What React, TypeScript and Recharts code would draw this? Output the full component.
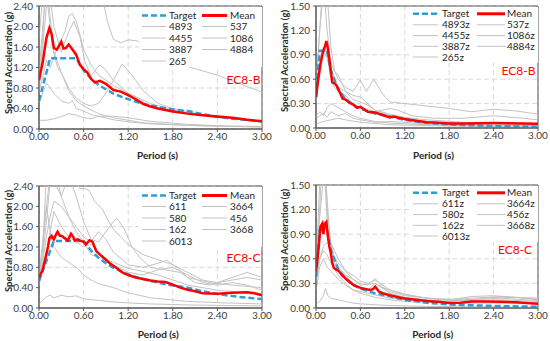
import React from 'react';
import { LineChart, Line, XAxis, YAxis, CartesianGrid, ReferenceArea, Legend } from 'recharts';

type Pt = [number, number];

// ---------- shared ticks ----------
const periodTicks = [0, 0.6, 1.2, 1.8, 2.4, 3.0];
const horizTicks = [0, 0.4, 0.8, 1.2, 1.6, 2.0, 2.4];
const vertTicks = [0, 0.3, 0.6, 0.9, 1.2, 1.5];

// ---------- EC8-B horizontal ----------
const hbNames = ['4893', '4455', '3887', '265', '537', '1086', '4884'];
const hbTarget: Pt[] = [[0, 0.55], [0.15, 1.38], [0.5, 1.38], [0.6, 1.15], [0.7, 0.99], [0.8, 0.86], [1.0, 0.69], [1.2, 0.58], [1.4, 0.49], [1.6, 0.43], [1.8, 0.38], [2.0, 0.35], [2.2, 0.29], [2.4, 0.24], [2.6, 0.2], [2.8, 0.18], [3.0, 0.15]];
const hbMean: Pt[] = [[0, 0.95], [0.05, 1.3], [0.1, 1.78], [0.14, 1.97], [0.17, 1.85], [0.2, 1.58], [0.24, 1.55], [0.28, 1.65], [0.3, 1.7], [0.33, 1.57], [0.36, 1.58], [0.4, 1.65], [0.45, 1.55], [0.5, 1.45], [0.55, 1.25], [0.6, 1.17], [0.65, 1.1], [0.7, 0.98], [0.75, 0.91], [0.82, 0.94], [0.9, 0.88], [1.0, 0.76], [1.1, 0.73], [1.2, 0.66], [1.3, 0.58], [1.4, 0.49], [1.5, 0.44], [1.6, 0.4], [1.8, 0.34], [2.0, 0.3], [2.2, 0.27], [2.4, 0.245], [2.6, 0.22], [2.8, 0.18], [3.0, 0.15]];
const hb4893: Pt[] = [[0, 1.75], [0.05, 2.6], [0.1, 3.2], [0.15, 3.5], [0.3, 3.6], [0.6, 3.4], [0.85, 2.6], [0.92, 2.1], [1.0, 1.75], [1.1, 1.68], [1.2, 1.74], [1.32, 1.72], [1.6, 1.5], [2.0, 1.22], [2.4, 1.05], [3.0, 0.72]];
const hb4455: Pt[] = [[0, 0.75], [0.05, 1.0], [0.1, 1.35], [0.15, 1.2], [0.2, 1.4], [0.25, 1.6], [0.3, 1.75], [0.35, 1.9], [0.4, 2.2], [0.45, 2.25], [0.5, 2.1], [0.55, 1.85], [0.6, 1.55], [0.7, 1.25], [0.8, 1.05], [1.0, 0.85], [1.2, 0.7], [1.5, 0.5], [1.8, 0.37], [2.2, 0.27], [2.6, 0.2], [3.0, 0.15]];
const hb3887: Pt[] = [[0, 0.9], [0.05, 1.6], [0.1, 2.4], [0.15, 2.6], [0.2, 2.0], [0.3, 1.5], [0.4, 1.9], [0.47, 2.1], [0.55, 1.8], [0.62, 1.3], [0.7, 1.05], [0.82, 1.25], [0.9, 1.15], [1.0, 0.95], [1.2, 0.7], [1.5, 0.45], [1.8, 0.35], [2.4, 0.22], [3.0, 0.15]];
const hb265: Pt[] = [[0, 1.1], [0.05, 2.0], [0.1, 2.8], [0.15, 2.2], [0.2, 1.5], [0.3, 1.1], [0.4, 0.8], [0.5, 0.6], [0.6, 0.5], [0.7, 0.45], [0.8, 0.5], [0.9, 0.7], [1.0, 0.95], [1.12, 1.27], [1.25, 1.05], [1.4, 0.75], [1.6, 0.5], [1.8, 0.4], [2.2, 0.28], [2.6, 0.2], [3.0, 0.14]];
const hb537: Pt[] = [[0, 0.7], [0.05, 1.8], [0.08, 2.6], [0.12, 2.4], [0.18, 1.6], [0.25, 1.2], [0.3, 1.1], [0.4, 0.75], [0.5, 0.55], [0.6, 0.45], [0.8, 0.3], [1.0, 0.22], [1.4, 0.12], [2.0, 0.07], [3.0, 0.04]];
const hb1086: Pt[] = [[0, 0.5], [0.1, 0.9], [0.2, 0.7], [0.3, 0.55], [0.4, 0.5], [0.45, 0.55], [0.5, 0.4], [0.6, 0.35], [0.7, 0.28], [0.8, 0.25], [1.0, 0.18], [1.2, 0.14], [1.5, 0.1], [2.0, 0.07], [2.5, 0.05], [3.0, 0.04]];
const hb4884: Pt[] = [[0, 0.17], [0.1, 0.17], [0.2, 0.2], [0.3, 0.24], [0.4, 0.3], [0.5, 0.27], [0.6, 0.22], [0.7, 0.2], [0.8, 0.25], [1.0, 0.25], [1.2, 0.22], [1.5, 0.15], [2.0, 0.09], [2.5, 0.06], [3.0, 0.05]];

// ---------- EC8-B vertical ----------
const vbNames = ['4893z', '4455z', '3887z', '265z', '537z', '1086z', '4884z'];
const vbTarget: Pt[] = [[0, 0.38], [0.05, 0.95], [0.15, 0.95], [0.2, 0.71], [0.3, 0.475], [0.4, 0.356], [0.5, 0.285], [0.6, 0.237], [0.8, 0.178], [1.0, 0.142], [1.2, 0.099], [1.5, 0.063], [1.8, 0.044], [2.0, 0.036], [2.5, 0.023], [3.0, 0.016]];
const vbMean: Pt[] = [[0, 0.38], [0.03, 0.6], [0.06, 0.78], [0.09, 0.92], [0.12, 1.0], [0.14, 1.07], [0.16, 0.98], [0.18, 0.85], [0.2, 0.7], [0.22, 0.56], [0.25, 0.55], [0.28, 0.52], [0.3, 0.48], [0.33, 0.42], [0.36, 0.36], [0.4, 0.35], [0.45, 0.31], [0.5, 0.29], [0.55, 0.25], [0.6, 0.26], [0.65, 0.23], [0.7, 0.2], [0.8, 0.19], [0.9, 0.16], [1.0, 0.13], [1.05, 0.14], [1.1, 0.13], [1.2, 0.11], [1.35, 0.09], [1.5, 0.07], [1.65, 0.065], [1.8, 0.055], [2.0, 0.055], [2.2, 0.058], [2.4, 0.06], [2.6, 0.058], [2.8, 0.056], [3.0, 0.053]];
const vb4893: Pt[] = [[0, 0.5], [0.05, 1.2], [0.1, 1.7], [0.13, 1.9], [0.17, 1.4], [0.2, 1.0], [0.25, 0.7], [0.3, 0.6], [0.4, 0.5], [0.5, 0.45], [0.6, 0.59], [0.68, 0.45], [0.78, 0.6], [0.9, 0.42], [1.0, 0.32], [1.2, 0.3], [1.5, 0.27], [1.8, 0.24], [2.1, 0.2], [2.4, 0.23], [2.7, 0.21], [3.0, 0.17]];
const vb4455: Pt[] = [[0, 0.45], [0.05, 1.2], [0.08, 1.6], [0.1, 1.8], [0.12, 1.55], [0.15, 1.2], [0.2, 0.8], [0.25, 0.7], [0.3, 0.65], [0.4, 0.45], [0.5, 0.4], [0.6, 0.38], [0.7, 0.3], [0.8, 0.22], [1.0, 0.17], [1.2, 0.13], [1.5, 0.1], [2.0, 0.07], [2.5, 0.05], [3.0, 0.04]];
const vb3887: Pt[] = [[0, 0.35], [0.05, 0.8], [0.1, 1.0], [0.15, 0.9], [0.2, 0.6], [0.25, 0.5], [0.3, 0.45], [0.4, 0.4], [0.5, 0.3], [0.6, 0.25], [0.8, 0.2], [1.0, 0.24], [1.1, 0.22], [1.3, 0.15], [1.6, 0.12], [2.0, 0.12], [2.4, 0.15], [2.8, 0.12], [3.0, 0.1]];
const vb265: Pt[] = [[0, 0.3], [0.05, 0.7], [0.1, 0.95], [0.15, 0.85], [0.2, 0.75], [0.25, 0.6], [0.3, 0.5], [0.4, 0.45], [0.5, 0.35], [0.6, 0.32], [0.7, 0.28], [0.8, 0.22], [1.0, 0.15], [1.2, 0.12], [1.5, 0.08], [2.0, 0.06], [2.5, 0.05], [3.0, 0.04]];
const vb537: Pt[] = [[0, 0.15], [0.05, 0.2], [0.1, 0.15], [0.15, 0.25], [0.2, 0.3], [0.24, 0.28], [0.3, 0.25], [0.4, 0.2], [0.5, 0.15], [0.6, 0.12], [0.8, 0.08], [1.0, 0.06], [1.5, 0.04], [2.0, 0.03], [3.0, 0.02]];
const vb1086: Pt[] = [[0, 0.12], [0.05, 0.15], [0.1, 0.18], [0.15, 0.13], [0.2, 0.2], [0.3, 0.15], [0.4, 0.18], [0.5, 0.12], [0.6, 0.1], [0.8, 0.07], [1.0, 0.08], [1.2, 0.07], [1.5, 0.05], [2.0, 0.04], [2.5, 0.035], [3.0, 0.03]];
const vb4884: Pt[] = [[0, 0.05], [0.1, 0.08], [0.2, 0.1], [0.3, 0.12], [0.4, 0.1], [0.6, 0.07], [1.0, 0.04], [1.5, 0.03], [2.0, 0.02], [3.0, 0.015]];

// ---------- EC8-C horizontal ----------
const hcNames = ['611', '580', '162', '6013', '3664', '456', '3668'];
const hcTarget: Pt[] = [[0, 0.53], [0.2, 1.32], [0.6, 1.32], [0.7, 1.13], [0.8, 0.99], [0.9, 0.88], [1.0, 0.79], [1.2, 0.66], [1.4, 0.57], [1.6, 0.5], [1.8, 0.44], [2.0, 0.4], [2.2, 0.33], [2.4, 0.275], [2.6, 0.234], [2.8, 0.202], [3.0, 0.176]];
const hcMean: Pt[] = [[0, 0.6], [0.05, 0.75], [0.09, 1.0], [0.12, 1.2], [0.14, 1.37], [0.17, 1.42], [0.2, 1.35], [0.23, 1.45], [0.25, 1.5], [0.28, 1.42], [0.3, 1.42], [0.35, 1.37], [0.39, 1.33], [0.43, 1.46], [0.46, 1.4], [0.48, 1.33], [0.52, 1.35], [0.56, 1.32], [0.6, 1.3], [0.63, 1.25], [0.68, 1.33], [0.72, 1.3], [0.77, 1.12], [0.82, 1.05], [0.86, 1.0], [0.9, 0.95], [0.95, 0.88], [1.0, 0.83], [1.05, 0.78], [1.13, 0.69], [1.2, 0.65], [1.3, 0.6], [1.4, 0.57], [1.5, 0.54], [1.6, 0.52], [1.7, 0.51], [1.8, 0.46], [1.9, 0.4], [2.0, 0.36], [2.1, 0.33], [2.2, 0.29], [2.4, 0.28], [2.6, 0.3], [2.8, 0.31], [2.9, 0.29], [3.0, 0.25]];
const hc611: Pt[] = [[0, 0.65], [0.05, 1.3], [0.1, 2.0], [0.15, 2.6], [0.2, 2.9], [0.3, 2.7], [0.4, 2.5], [0.5, 2.45], [0.55, 2.35], [0.62, 2.35], [0.68, 2.3], [0.75, 2.1], [0.85, 1.95], [0.92, 1.75], [1.0, 1.55], [1.1, 1.4], [1.2, 1.25], [1.4, 1.05], [1.6, 0.95], [1.8, 0.85], [2.0, 0.7], [2.2, 0.55], [2.4, 0.5], [2.6, 0.55], [2.8, 0.6], [3.0, 0.55]];
const hc580: Pt[] = [[0, 0.55], [0.05, 1.2], [0.1, 2.6], [0.15, 2.8], [0.2, 2.5], [0.3, 2.2], [0.4, 2.6], [0.5, 2.2], [0.6, 1.7], [0.7, 1.35], [0.8, 1.3], [0.9, 1.5], [1.0, 1.7], [1.05, 1.76], [1.15, 1.55], [1.25, 1.2], [1.35, 1.0], [1.5, 0.8], [1.7, 0.75], [1.9, 0.7], [2.1, 0.5], [2.3, 0.45], [2.5, 0.55], [2.7, 0.65], [2.8, 0.7], [3.0, 0.6]];
const hc162: Pt[] = [[0, 0.5], [0.05, 0.9], [0.1, 1.4], [0.15, 1.8], [0.2, 2.1], [0.3, 2.0], [0.4, 1.8], [0.5, 1.6], [0.6, 1.4], [0.7, 1.3], [0.8, 1.5], [0.9, 1.35], [1.0, 1.1], [1.2, 0.85], [1.4, 0.8], [1.6, 0.88], [1.72, 0.94], [1.85, 0.8], [2.0, 0.6], [2.3, 0.5], [2.6, 0.45], [3.0, 0.4]];
const hc6013: Pt[] = [[0, 0.45], [0.05, 0.8], [0.1, 1.1], [0.15, 1.5], [0.2, 1.9], [0.3, 1.6], [0.4, 1.4], [0.5, 1.3], [0.6, 1.2], [0.7, 1.25], [0.8, 1.1], [1.0, 0.85], [1.2, 0.7], [1.4, 0.65], [1.6, 0.75], [1.8, 0.8], [2.0, 0.65], [2.2, 0.5], [2.4, 0.45], [2.6, 0.5], [2.8, 0.45], [3.0, 0.35]];
const hc3664: Pt[] = [[0, 0.6], [0.05, 1.2], [0.1, 2.0], [0.15, 1.5], [0.2, 1.2], [0.3, 1.0], [0.4, 0.9], [0.5, 0.8], [0.55, 0.74], [0.6, 0.65], [0.7, 0.55], [0.8, 0.48], [1.0, 0.4], [1.2, 0.3], [1.5, 0.2], [2.0, 0.13], [2.5, 0.1], [3.0, 0.08]];
const hc456: Pt[] = [[0, 0.08], [0.05, 0.15], [0.1, 0.22], [0.15, 0.25], [0.2, 0.2], [0.3, 0.25], [0.4, 0.22], [0.5, 0.24], [0.6, 0.18], [0.8, 0.15], [1.0, 0.12], [1.2, 0.1], [1.5, 0.08], [2.0, 0.06], [2.5, 0.05], [3.0, 0.04]];
const hc3668: Pt[] = [[0, 0.55], [0.05, 1.0], [0.1, 1.7], [0.15, 2.5], [0.2, 2.8], [0.3, 2.2], [0.4, 1.8], [0.5, 1.5], [0.6, 1.3], [0.7, 1.05], [0.8, 1.0], [1.0, 0.9], [1.2, 0.78], [1.4, 0.72], [1.6, 0.65], [1.8, 0.55], [2.0, 0.45], [2.4, 0.35], [2.8, 0.3], [3.0, 0.28]];

// ---------- EC8-C vertical ----------
const vcNames = ['611z', '580z', '162z', '6013z', '3664z', '456z', '3668z'];
const vcTarget: Pt[] = [[0, 0.38], [0.05, 0.95], [0.15, 0.95], [0.2, 0.71], [0.3, 0.475], [0.4, 0.356], [0.5, 0.285], [0.6, 0.237], [0.8, 0.178], [1.0, 0.142], [1.2, 0.099], [1.5, 0.063], [1.8, 0.044], [2.0, 0.036], [2.5, 0.023], [3.0, 0.016]];
const vcMean: Pt[] = [[0, 0.45], [0.02, 0.6], [0.04, 0.78], [0.06, 0.99], [0.085, 1.03], [0.1, 0.9], [0.12, 1.03], [0.14, 1.05], [0.16, 0.88], [0.18, 0.75], [0.2, 0.67], [0.22, 0.55], [0.24, 0.49], [0.27, 0.47], [0.31, 0.45], [0.35, 0.4], [0.4, 0.36], [0.45, 0.32], [0.51, 0.28], [0.56, 0.26], [0.62, 0.24], [0.68, 0.23], [0.73, 0.22], [0.77, 0.23], [0.8, 0.26], [0.85, 0.2], [0.9, 0.18], [1.0, 0.155], [1.1, 0.135], [1.2, 0.115], [1.35, 0.1], [1.5, 0.085], [1.65, 0.075], [1.8, 0.062], [1.95, 0.065], [2.1, 0.08], [2.3, 0.08], [2.5, 0.075], [2.7, 0.07], [2.85, 0.062], [3.0, 0.053]];
const vc611: Pt[] = [[0, 0.5], [0.04, 1.3], [0.07, 2.0], [0.1, 1.7], [0.13, 1.6], [0.16, 1.2], [0.2, 0.75], [0.25, 0.6], [0.3, 0.55], [0.4, 0.45], [0.5, 0.35], [0.6, 0.3], [0.7, 0.28], [0.8, 0.36], [0.9, 0.25], [1.0, 0.22], [1.2, 0.17], [1.5, 0.12], [1.8, 0.1], [2.1, 0.14], [2.4, 0.15], [2.7, 0.13], [3.0, 0.1]];
const vc580: Pt[] = [[0, 0.4], [0.04, 1.0], [0.07, 1.6], [0.1, 1.9], [0.13, 1.4], [0.16, 0.9], [0.2, 0.8], [0.25, 0.7], [0.3, 0.6], [0.4, 0.45], [0.5, 0.4], [0.6, 0.33], [0.7, 0.3], [0.8, 0.34], [1.0, 0.22], [1.2, 0.16], [1.5, 0.12], [1.8, 0.1], [2.1, 0.12], [2.5, 0.14], [3.0, 0.11]];
const vc162: Pt[] = [[0, 0.45], [0.05, 1.1], [0.08, 1.4], [0.1, 1.6], [0.12, 2.0], [0.15, 1.2], [0.2, 0.8], [0.25, 0.6], [0.3, 0.5], [0.4, 0.4], [0.5, 0.35], [0.6, 0.28], [0.8, 0.3], [1.0, 0.2], [1.2, 0.15], [1.5, 0.12], [2.0, 0.1], [2.5, 0.12], [3.0, 0.09]];
const vc6013: Pt[] = [[0, 0.3], [0.05, 0.6], [0.1, 0.75], [0.15, 0.8], [0.2, 0.75], [0.25, 0.55], [0.3, 0.45], [0.4, 0.4], [0.5, 0.3], [0.6, 0.25], [0.7, 0.22], [0.8, 0.3], [1.0, 0.18], [1.2, 0.13], [1.5, 0.1], [2.0, 0.09], [2.5, 0.1], [3.0, 0.08]];
const vc3664: Pt[] = [[0, 0.35], [0.05, 0.6], [0.1, 0.7], [0.15, 0.65], [0.2, 0.55], [0.3, 0.4], [0.4, 0.3], [0.5, 0.22], [0.6, 0.18], [0.8, 0.13], [1.0, 0.1], [1.2, 0.08], [1.5, 0.07], [2.0, 0.06], [2.5, 0.06], [3.0, 0.05]];
const vc456: Pt[] = [[0, 0.05], [0.05, 0.08], [0.1, 0.15], [0.13, 0.24], [0.16, 0.15], [0.2, 0.12], [0.3, 0.1], [0.4, 0.08], [0.5, 0.06], [0.6, 0.05], [0.8, 0.04], [1.0, 0.03], [1.5, 0.02], [2.0, 0.015], [3.0, 0.01]];
const vc3668: Pt[] = [[0, 0.2], [0.05, 0.5], [0.1, 0.6], [0.15, 0.5], [0.2, 0.45], [0.3, 0.35], [0.4, 0.28], [0.5, 0.22], [0.6, 0.2], [0.8, 0.16], [1.0, 0.12], [1.2, 0.1], [1.5, 0.09], [1.8, 0.08], [2.1, 0.1], [2.4, 0.13], [2.7, 0.13], [3.0, 0.12]];

// ---------- styling ----------
const FONT = 'Lato, "Open Sans", sans-serif';
const AXIS = '#595959';
const GRAY = '#c3c3c3';
const RED = '#ff0000';
const BLUE = '#2a9fd8';

const toPts = (a: Pt[]) => a.map(([x, y]) => ({ x, y }));
const fmt = (v: number) => v.toFixed(2);

type LegendGeom = { rows: number[]; s1: [number, number]; t1: number; s2: [number, number]; t2: number };
const legendWide: LegendGeom = { rows: [8.5, 19.5, 31, 42.5, 54], s1: [3, 27], t1: 30, s2: [63, 88], t2: 91 };
const legendNarrow: LegendGeom = { rows: [6.8, 17.8, 28.6, 39.3, 50], s1: [2, 27], t1: 31, s2: [66, 94], t2: 96 };

function LegendBox({ names, g, w, h }: { names: string[]; g: LegendGeom; w: number; h: number }) {
  const items: { col: number; row: number; label: string; kind: 'target' | 'mean' | 'rec' }[] = [
    { col: 0, row: 0, label: 'Target', kind: 'target' },
    { col: 1, row: 0, label: 'Mean', kind: 'mean' },
  ];
  names.forEach((n, i) => {
    if (i < 4) items.push({ col: 0, row: i + 1, label: n, kind: 'rec' });
    else items.push({ col: 1, row: i - 3, label: n, kind: 'rec' });
  });
  return (
    <div style={{ position: 'relative', width: w, height: h, background: '#fff', fontFamily: FONT, fontSize: 10, color: '#262626' }}>
      <svg width={w} height={h} style={{ position: 'absolute', left: 0, top: 0 }}>
        {items.map((it, i) => {
          const s = it.col === 0 ? g.s1 : g.s2;
          const y = g.rows[it.row];
          const stroke = it.kind === 'target' ? BLUE : it.kind === 'mean' ? RED : GRAY;
          const sw = it.kind === 'rec' ? 1 : it.kind === 'mean' ? 3 : 2.5;
          return (
            <line key={i} x1={s[0]} x2={s[1]} y1={y} y2={y} stroke={stroke} strokeWidth={sw}
              strokeDasharray={it.kind === 'target' ? '6 3' : undefined} />
          );
        })}
      </svg>
      {items.map((it, i) => (
        <div key={'t' + i} style={{ position: 'absolute', left: it.col === 0 ? g.t1 : g.t2, top: g.rows[it.row] - 5, height: 10, lineHeight: '10px', whiteSpace: 'nowrap' }}>
          {it.label}
        </div>
      ))}
    </div>
  );
}

type PanelProps = {
  left: number; top: number; width: number; height: number;
  margin: { top: number; right: number; bottom: number; left: number };
  yAxisWidth: number;
  yMax: number; yTicks: number[];
  records: Pt[][]; names: string[]; target: Pt[]; mean: Pt[];
  tag: string; tagPos: [number, number];
  yTitle: [number, number]; xTitle: [number, number];
  legend: { x: number; y: number; w: number; h: number; g: LegendGeom };
};

function Panel(p: PanelProps) {
  return (
    <div style={{ position: 'absolute', left: p.left, top: p.top, width: p.width, height: p.height, fontFamily: FONT }}>
      <LineChart width={p.width} height={p.height} margin={p.margin}>
        <CartesianGrid stroke="#d9d9d9" strokeDasharray="5 3" />
        <XAxis type="number" dataKey="x" domain={[0, 3]} ticks={periodTicks} tickFormatter={fmt}
          allowDataOverflow height={20} tickSize={3} tickMargin={1}
          tick={{ fontSize: 10, fill: '#404040', fontFamily: FONT }}
          stroke={AXIS} axisLine={{ stroke: AXIS }} tickLine={{ stroke: AXIS }} />
        <YAxis type="number" dataKey="y" domain={[0, p.yMax]} ticks={p.yTicks} tickFormatter={fmt}
          allowDataOverflow width={p.yAxisWidth} tickSize={3} tickMargin={3}
          tick={{ fontSize: 10, fill: '#404040', fontFamily: FONT }}
          axisLine={{ stroke: AXIS }} tickLine={{ stroke: AXIS }} />
        {p.records.map((r, i) => (
          <Line key={i} data={toPts(r)} dataKey="y" type="linear" stroke={GRAY} strokeWidth={1}
            dot={false} activeDot={false} isAnimationActive={false} name={p.names[i]} />
        ))}
        <Line data={toPts(p.target)} dataKey="y" type="linear" stroke={BLUE} strokeWidth={2.5}
          strokeDasharray="6 3" dot={false} activeDot={false} isAnimationActive={false} name="Target" />
        <Line data={toPts(p.mean)} dataKey="y" type="linear" stroke={RED} strokeWidth={2.5}
          dot={false} activeDot={false} isAnimationActive={false} name="Mean" />
        <ReferenceArea x1={0} x2={3} y1={0} y2={p.yMax} fill="none" fillOpacity={0} stroke={AXIS} strokeWidth={1} />
        <Legend layout="vertical" align="center" verticalAlign="middle"
          wrapperStyle={{ left: p.legend.x, top: p.legend.y, width: p.legend.w, height: p.legend.h, margin: 0, padding: 0 }}
          content={() => <LegendBox names={p.names} g={p.legend.g} w={p.legend.w} h={p.legend.h} />} />
      </LineChart>
      <div style={{ position: 'absolute', left: p.yTitle[0], top: p.yTitle[1], transform: 'translate(-50%, -50%) rotate(-90deg)', whiteSpace: 'nowrap', fontWeight: 700, fontSize: 9.5, lineHeight: '11px', color: '#262626' }}>
        Spectral Acceleration (g)
      </div>
      <div style={{ position: 'absolute', left: p.xTitle[0], top: p.xTitle[1], transform: 'translate(-50%, -50%)', whiteSpace: 'nowrap', fontWeight: 700, fontSize: 10, lineHeight: '12px', color: '#262626' }}>
        Period (s)
      </div>
      <div style={{ position: 'absolute', left: p.tagPos[0], top: p.tagPos[1], transform: 'translate(-50%, -50%)', whiteSpace: 'nowrap', fontSize: 12, lineHeight: '14px', color: RED }}>
        {p.tag}
      </div>
    </div>
  );
}

export default function App() {
  return (
    <div style={{ position: 'absolute', left: 0, top: 0, width: 550, height: 341, background: '#fff', overflow: 'hidden' }}>
      <Panel left={0} top={0} width={275} height={170}
        margin={{ top: 6, right: 13, bottom: 21, left: 0 }} yAxisWidth={39}
        yMax={2.4} yTicks={horizTicks}
        records={[hb4893, hb4455, hb3887, hb265, hb537, hb1086, hb4884]} names={hbNames}
        target={hbTarget} mean={hbMean}
        tag="EC8-B" tagPos={[243.5, 80]} yTitle={[7.5, 62.5]} xTitle={[157.5, 155]}
        legend={{ x: 139, y: 6.5, w: 122.5, h: 60, g: legendWide }} />
      <Panel left={275} top={0} width={275} height={170}
        margin={{ top: 6, right: 12, bottom: 22, left: 0 }} yAxisWidth={41}
        yMax={1.5} yTicks={vertTicks}
        records={[vb4893, vb4455, vb3887, vb265, vb537, vb1086, vb4884]} names={vbNames}
        target={vbTarget} mean={vbMean}
        tag="EC8-B" tagPos={[243.5, 70.7]} yTitle={[8.5, 60.5]} xTitle={[158.5, 155]}
        legend={{ x: 136, y: 6.5, w: 126.5, h: 56, g: legendNarrow }} />
      <Panel left={0} top={170} width={275} height={171}
        margin={{ top: 16, right: 13, bottom: 13, left: 0 }} yAxisWidth={39}
        yMax={2.4} yTicks={horizTicks}
        records={[hc611, hc580, hc162, hc6013, hc3664, hc456, hc3668]} names={hcNames}
        target={hcTarget} mean={hcMean}
        tag="EC8-C" tagPos={[243.5, 88]} yTitle={[7.5, 70.8]} xTitle={[158.3, 164.3]}
        legend={{ x: 139, y: 16.5, w: 122.5, h: 60, g: legendWide }} />
      <Panel left={275} top={170} width={275} height={171}
        margin={{ top: 15, right: 12, bottom: 13, left: 0 }} yAxisWidth={41}
        yMax={1.5} yTicks={vertTicks}
        records={[vc611, vc580, vc162, vc6013, vc3664, vc456, vc3668]} names={vcNames}
        target={vcTarget} mean={vcMean}
        tag="EC8-C" tagPos={[240, 80]} yTitle={[8.5, 70]} xTitle={[157.7, 164]}
        legend={{ x: 136, y: 15.5, w: 126.5, h: 56, g: legendNarrow }} />
    </div>
  );
}
